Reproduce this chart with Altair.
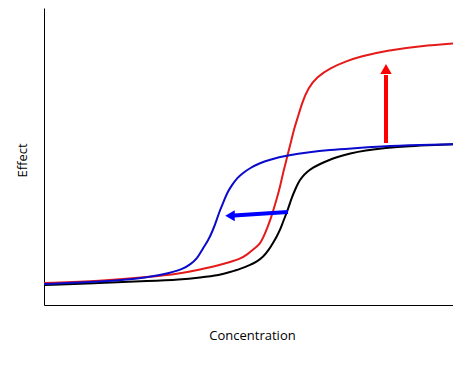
import altair as alt
import pandas as pd

# Curves (concentration, effect) in arbitrary units
black_x = [0, 56, 106, 136, 156, 176, 186, 196, 206, 213, 219, 224, 229, 233, 236, 239, 241, 244, 246, 248, 251, 254, 258, 263, 269, 276, 284, 293, 306, 321, 341, 366, 391, 416]
black_y = [20, 22, 24, 25.5, 27.5, 30, 33, 36, 40, 43.5, 48, 54, 62, 69, 75, 83, 88, 96, 102, 108, 115, 122, 128, 133, 137.5, 141, 144.5, 148, 151.5, 154.5, 157, 159, 160, 161]

blue_x = [0, 56, 106, 126, 139, 146, 153, 159, 164, 169, 173, 176, 180, 183, 188, 193, 199, 206, 216, 226, 243, 266, 286, 306, 336, 376, 416]
blue_y = [21, 23, 27.5, 32, 36, 40.5, 46, 57, 64, 75, 86, 95, 104, 112, 120, 127, 132, 137, 142, 145.5, 149.5, 153, 155, 156.5, 158.5, 160, 161]

red_x = [0, 56, 106, 136, 156, 176, 186, 196, 204, 211, 216, 220, 224, 227, 230, 233, 236, 239, 242, 244, 247, 250, 253, 258, 264, 273, 286, 303, 316, 343, 376, 416]
red_y = [22, 24, 28, 31.5, 35.5, 40, 43, 46, 51, 57, 61, 69, 79, 87, 97, 107, 118, 132, 143, 152, 163, 176, 185, 202, 217, 228, 237, 244, 248.5, 254.5, 259, 262]

# Arrows: shaft start/end and head position
blue_arrow_x = [244, 190]
blue_arrow_y = [93, 89.5]
blue_head = (186, 89.3)
red_arrow_x = [342, 342]
red_arrow_y = [162, 230]
red_head = (342, 236)

X_DOMAIN = [0, 409]
Y_DOMAIN = [0, 297]

xs = alt.Scale(domain=X_DOMAIN, nice=False, zero=False)
ys = alt.Scale(domain=Y_DOMAIN, nice=False, zero=False)

xaxis = alt.Axis(title="Concentration", labels=False, ticks=False, grid=False,
                 domainColor="black", domainWidth=1,
                 titleFont="Open Sans", titleFontSize=13, titleFontWeight="normal",
                 titleColor="black", titleX=208, titleY=30, titleBaseline="middle")
yaxis = alt.Axis(title="Effect", labels=False, ticks=False, grid=False,
                 domainColor="black", domainWidth=1,
                 titleFont="Open Sans", titleFontSize=13, titleFontWeight="normal",
                 titleColor="black", titleAngle=270, titleX=-22, titleY=152,
                 titleAlign="center", titleBaseline="middle")

X = lambda: alt.X("x:Q", scale=xs, axis=xaxis)
Y = lambda: alt.Y("y:Q", scale=ys, axis=yaxis)


def curve(xv, yv, color, width=2):
    df = pd.DataFrame({"x": xv, "y": yv})
    return alt.Chart(df).mark_line(color=color, strokeWidth=width, interpolate="basis",
                                   clip=True).encode(x=X(), y=Y())


def shaft(xv, yv, color):
    df = pd.DataFrame({"x": xv, "y": yv})
    return alt.Chart(df).mark_line(color=color, strokeWidth=4, strokeCap="butt").encode(x=X(), y=Y())


def head(pt, shape, color, size):
    df = pd.DataFrame({"x": [pt[0]], "y": [pt[1]]})
    return alt.Chart(df).mark_point(shape=shape, filled=True, color=color, size=size,
                                    opacity=1, strokeWidth=0).encode(x=X(), y=Y())


black = curve(black_x, black_y, "#000000")
red = curve(red_x, red_y, "#E51A1A")
blue = curve(blue_x, blue_y, "#0A0ACC")
blue_shaft = shaft(blue_arrow_x, blue_arrow_y, "#0000FF")
red_shaft = shaft(red_arrow_x, red_arrow_y, "#FF0000")
blue_tip = head(blue_head, "triangle-left", "#0000FF", 120)
red_tip = head(red_head, "triangle-up", "#FF0000", 130)

chart = alt.layer(black, red, blue, blue_shaft, blue_tip, red_shaft, red_tip).properties(
    width=409, height=297,
    autosize=alt.AutoSizeParams(type="none"),
    padding={"left": 36, "top": 0, "right": 0, "bottom": 50},
    background="white",
).configure_view(stroke=None)

chart.save("out.html", embed_options={"renderer": "svg", "actions": False})
